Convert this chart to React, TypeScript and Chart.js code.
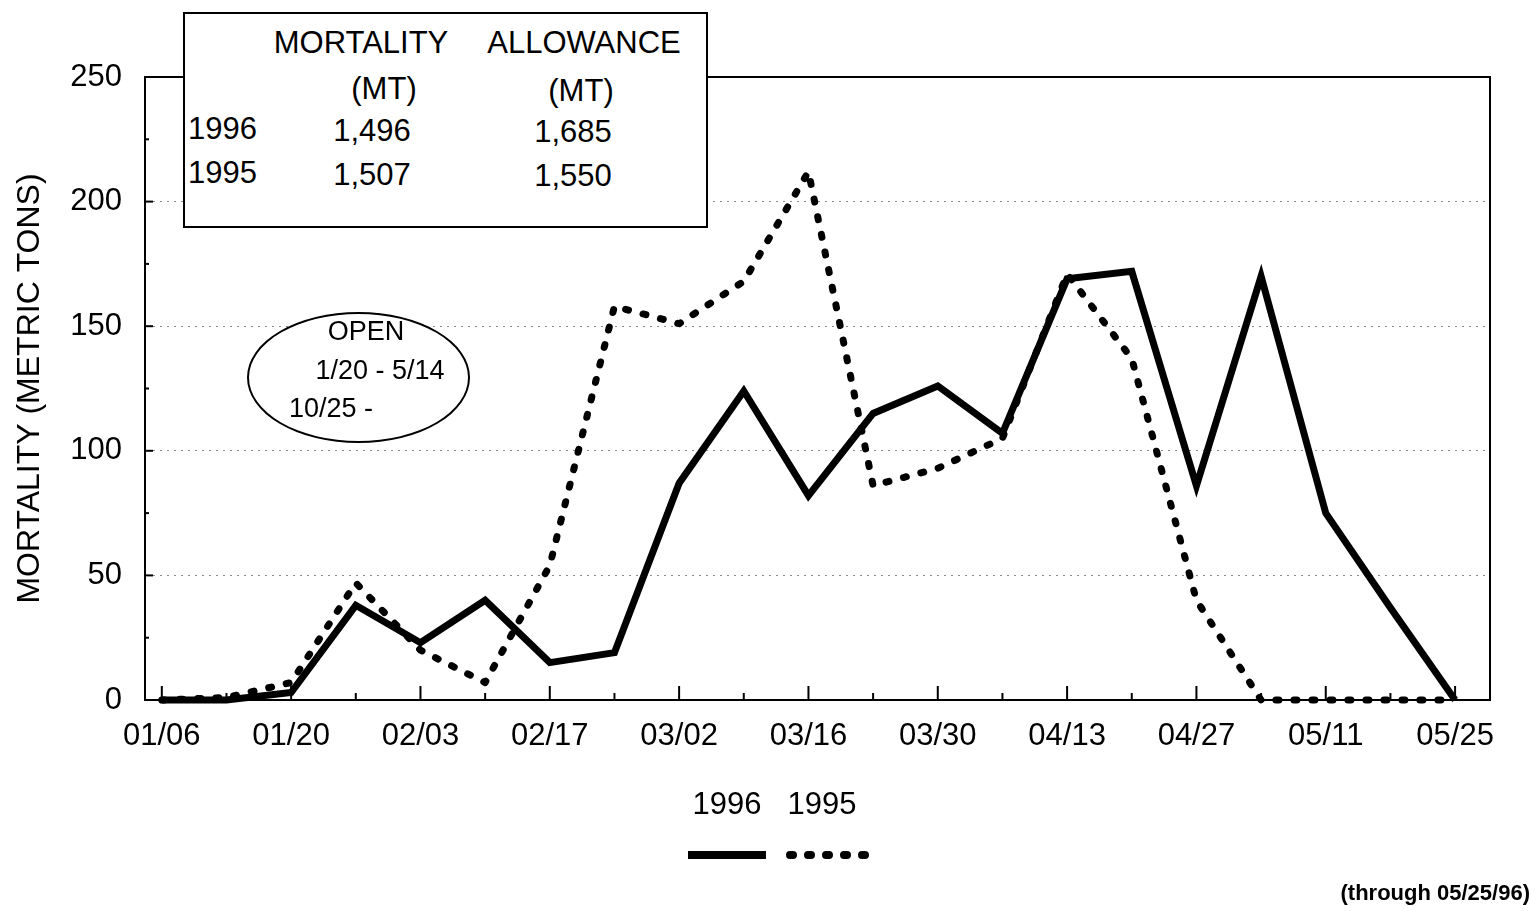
import React, { useEffect, useRef } from 'react';
import { Chart, registerables } from 'chart.js';

Chart.register(...registerables);

const weekLabels = ['01/06', '01/13', '01/20', '01/27', '02/03', '02/10', '02/17', '02/24', '03/02', '03/09', '03/16', '03/23', '03/30', '04/06', '04/13', '04/20', '04/27', '05/04', '05/11', '05/18', '05/25'];
const mortality1996 = [0, 0, 3, 38, 23, 40, 15, 19, 87, 124, 82, 115, 126, 107, 169, 172, 86, 170, 75, 37, 0];
const mortality1995 = [0, 1, 7, 47, 20, 7, 54, 158, 151, 168, 212, 86, 93, 105, 171, 137, 40, 0, 0, 0, 0];
const seriesNames = ['1996', '1995'];
const yAxisTitle = 'MORTALITY (METRIC TONS)';
const tableHeaders = ['MORTALITY', 'ALLOWANCE'];
const tableUnits = ['(MT)', '(MT)'];
const tableYears = ['1996', '1995'];
const tableMortality = ['1,496', '1,507'];
const tableAllowance = ['1,685', '1,550'];
const openSeason = ['OPEN', '1/20 - 5/14', '10/25 -'];
const footnote = '(through 05/25/96)';

const FONT = '"Liberation Sans", Arial, Helvetica, sans-serif';

const framePlugin = {
  id: 'frame',
  beforeDatasetsDraw(chart: any) {
    const { ctx, chartArea, scales } = chart;
    ctx.save();
    ctx.strokeStyle = '#000';
    ctx.lineWidth = 2;
    weekLabels.forEach((_, i) => {
      const px = scales.x.getPixelForValue(i);
      const len = i % 2 === 0 ? 14 : 7;
      ctx.beginPath();
      ctx.moveTo(px, chartArea.bottom);
      ctx.lineTo(px, chartArea.bottom - len);
      ctx.stroke();
    });
    for (let v = 25; v < 250; v += 25) {
      const py = scales.y.getPixelForValue(v);
      const len = v % 50 === 0 ? 8 : 4;
      ctx.beginPath();
      ctx.moveTo(chartArea.left, py);
      ctx.lineTo(chartArea.left + len, py);
      ctx.stroke();
    }
    ctx.restore();
  },
  afterDraw(chart: any) {
    const { ctx, chartArea } = chart;
    ctx.save();
    ctx.strokeStyle = '#000';
    ctx.lineWidth = 2;
    ctx.beginPath();
    ctx.moveTo(chartArea.left, chartArea.top);
    ctx.lineTo(chartArea.right, chartArea.top);
    ctx.lineTo(chartArea.right, chartArea.bottom);
    ctx.stroke();

    const ds = chart.data.datasets;
    const names = [{ cx: 727 }, { cx: 822 }];
    ctx.fillStyle = '#000';
    ctx.font = `31px ${FONT}`;
    ctx.textAlign = 'center';
    ctx.textBaseline = 'middle';
    ds.forEach((d: any, i: number) => {
      ctx.fillText(d.label, names[i].cx, 805);
    });
    const samples = [
      { x1: 688, x2: 766 },
      { x1: 790, x2: 866 },
    ];
    ds.forEach((d: any, i: number) => {
      ctx.save();
      ctx.strokeStyle = d.borderColor;
      ctx.lineWidth = d.borderWidth + 1;
      ctx.lineCap = d.borderCapStyle || 'butt';
      ctx.setLineDash(d.borderDash || []);
      ctx.beginPath();
      ctx.moveTo(samples[i].x1, 855);
      ctx.lineTo(samples[i].x2, 855);
      ctx.stroke();
      ctx.restore();
    });
    ctx.restore();
  },
};

export default function App() {
  const canvasRef = useRef<HTMLCanvasElement>(null);

  useEffect(() => {
    document.body.style.margin = '0';
    const canvas = canvasRef.current;
    if (!canvas) return;
    const chart = new Chart(canvas, {
      type: 'line',
      data: {
        datasets: [
          {
            label: seriesNames[0],
            data: mortality1996.map((y, i) => ({ x: i, y })),
            borderColor: '#000',
            borderWidth: 7,
            borderJoinStyle: 'miter',
            borderCapStyle: 'butt',
            pointRadius: 0,
            tension: 0,
            clip: false as any,
          },
          {
            label: seriesNames[1],
            data: mortality1995.map((y, i) => ({ x: i, y })),
            borderColor: '#000',
            borderWidth: 7,
            borderDash: [3, 15],
            borderCapStyle: 'round',
            borderJoinStyle: 'round',
            pointRadius: 0,
            tension: 0,
            clip: false as any,
          },
        ],
      },
      options: {
        responsive: false,
        animation: false,
        devicePixelRatio: 1,
        layout: { padding: { top: 77, right: 48, bottom: 0, left: 0 } },
        plugins: { legend: { display: false }, tooltip: { enabled: false } },
        scales: {
          x: {
            type: 'linear',
            min: -0.26,
            max: 20.54,
            afterFit: (scale: any) => {
              scale.height = 211;
            },
            afterBuildTicks: (scale: any) => {
              scale.ticks = weekLabels.map((_, i) => ({ value: i }));
            },
            grid: { display: false, drawTicks: false },
            border: { display: true, color: '#000', width: 2 },
            ticks: {
              autoSkip: false,
              maxRotation: 0,
              padding: 18,
              color: '#000',
              font: { family: FONT, size: 31 },
              callback: (value: any) => {
                const i = Number(value);
                return Number.isInteger(i) && i % 2 === 0 ? weekLabels[i] : '';
              },
            },
          },
          y: {
            min: 0,
            max: 250,
            afterFit: (scale: any) => {
              scale.width = 145;
            },
            ticks: {
              stepSize: 50,
              padding: 23,
              color: '#000',
              font: { family: FONT, size: 31 },
            },
            grid: {
              drawTicks: false,
              color: (c: any) => (c.tick && (c.tick.value === 0 || c.tick.value === 250) ? 'rgba(0,0,0,0)' : '#8a8a8a'),
              lineWidth: 1,
            },
            border: { display: true, color: '#000', width: 2, dash: [2, 5] },
            title: {
              display: true,
              text: yAxisTitle,
              color: '#000',
              font: { family: FONT, size: 32 },
              padding: { top: 11, bottom: 0 },
            },
          },
        },
      },
      plugins: [framePlugin],
    });
    return () => chart.destroy();
  }, []);

  const textStyle = (x: number, y: number, size: number, extra: any = {}): React.CSSProperties => ({
    position: 'absolute',
    left: x,
    top: y,
    transform: 'translate(-50%, -50%)',
    whiteSpace: 'nowrap',
    fontFamily: FONT,
    fontSize: size,
    lineHeight: 1,
    color: '#000',
    ...extra,
  });

  return (
    <div style={{ position: 'absolute', left: 0, top: 0, width: 1538, height: 911, background: '#fff', overflow: 'hidden' }}>
      <canvas ref={canvasRef} width={1538} height={911} style={{ position: 'absolute', left: 0, top: 0 }} />
      <div
        style={{
          position: 'absolute',
          left: 183,
          top: 12,
          width: 525,
          height: 216,
          border: '2px solid #000',
          boxSizing: 'border-box',
          background: '#fff',
        }}
      />
      <span style={textStyle(361, 42, 31)}>{tableHeaders[0]}</span>
      <span style={textStyle(584, 42, 31)}>{tableHeaders[1]}</span>
      <span style={textStyle(384, 88, 31)}>{tableUnits[0]}</span>
      <span style={textStyle(581, 90, 31)}>{tableUnits[1]}</span>
      {tableYears.map((yr, i) => (
        <React.Fragment key={yr}>
          <span style={textStyle(188, 128 + i * 44, 31, { transform: 'translate(0, -50%)' })}>{yr}</span>
          <span style={textStyle(372, 130 + i * 44, 31)}>{tableMortality[i]}</span>
          <span style={textStyle(573, 131 + i * 44, 31)}>{tableAllowance[i]}</span>
        </React.Fragment>
      ))}
      <div
        style={{
          position: 'absolute',
          left: 247,
          top: 312,
          width: 223,
          height: 131,
          border: '2px solid #000',
          borderRadius: '50%',
          boxSizing: 'border-box',
          background: '#fff',
        }}
      />
      <span style={textStyle(366, 331, 27)}>{openSeason[0]}</span>
      <span style={textStyle(380, 370, 27)}>{openSeason[1]}</span>
      <span style={textStyle(331, 408, 27)}>{openSeason[2]}</span>
      <span
        style={{
          position: 'absolute',
          right: 8,
          top: 893,
          transform: 'translate(0, -50%)',
          whiteSpace: 'nowrap',
          fontFamily: FONT,
          fontSize: 22,
          fontWeight: 'bold',
          lineHeight: 1,
          color: '#000',
        }}
      >
        {footnote}
      </span>
    </div>
  );
}
